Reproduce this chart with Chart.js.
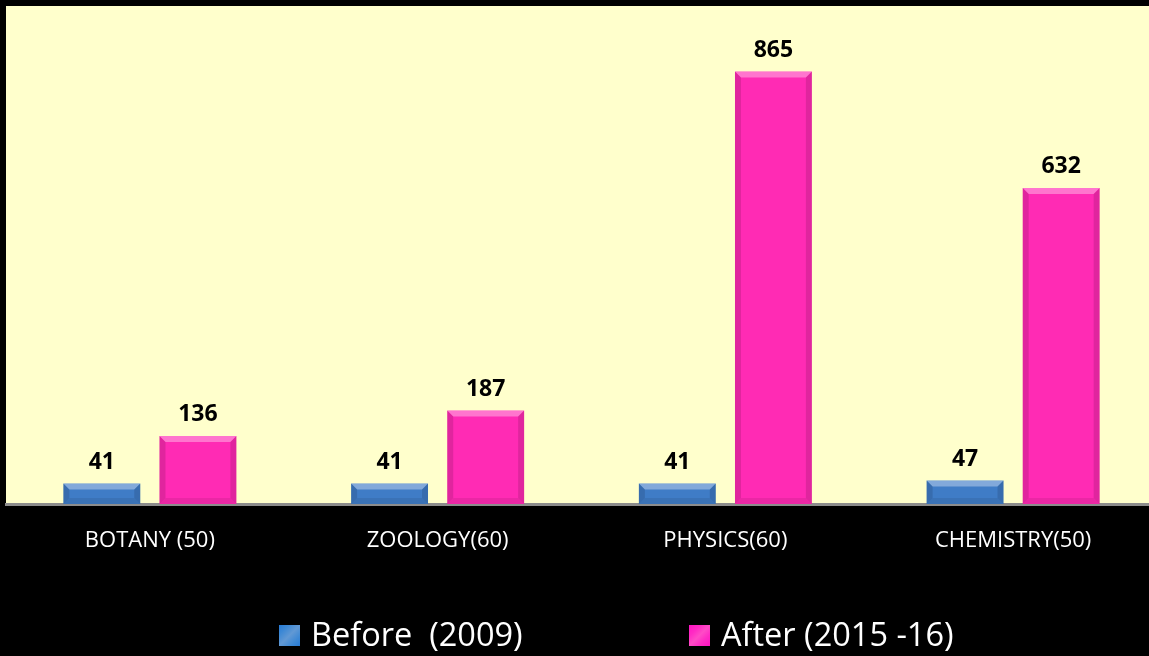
<!DOCTYPE html>
<html>
<head>
<meta charset="utf-8">
<script src="https://cdn.jsdelivr.net/npm/chart.js@4"></script>
<style>
  html, body { margin: 0; padding: 0; background: #000; overflow: hidden; }
  body { width: 1149px; height: 656px; position: relative; }
  #wrap { position: absolute; left: 0; top: 0; width: 1157px; height: 656px; }
  #legend { position: absolute; top: 614px; left: 0; width: 1149px; height: 40px;
            font-family: "Open Sans", Lato, sans-serif; font-size: 32.5px; color: #fff; }
  .item { position: absolute; top: 0; white-space: pre; line-height: 40px; }
  .box { position: absolute; top: 11px; width: 21px; height: 21px; }
</style>
</head>
<body>
<div id="wrap"><canvas id="chart" width="1157" height="656"></canvas></div>
<div id="legend"></div>
<script>
// Categories and values
const categories = ["BOTANY (50)", "ZOOLOGY(60)", "PHYSICS(60)", "CHEMISTRY(50)"];
const beforeVals = [41, 41, 41, 47];
const afterVals = [136, 187, 865, 632];
const seriesNames = ["Before  (2009)", "After (2015 -16)"];

const blue = '#3f7cc6';
const pink = '#ff2bb4';

// black page + pale yellow plot area
const background = {
  id: 'background',
  beforeDraw(chart) {
    const { ctx, chartArea } = chart;
    ctx.save();
    ctx.fillStyle = '#000';
    ctx.fillRect(0, 0, chart.width, chart.height);
    ctx.fillStyle = '#ffffcc';
    ctx.fillRect(chartArea.left, chartArea.top + 2, chartArea.right - chartArea.left, chartArea.bottom - chartArea.top - 2);
    ctx.restore();
  }
};

// simple bevel look on each bar
const bevel = {
  id: 'bevel',
  afterDatasetsDraw(chart) {
    const ctx = chart.ctx;
    chart.data.datasets.forEach((ds, i) => {
      chart.getDatasetMeta(i).data.forEach(bar => {
        const { x, y, base, width } = bar.getProps(['x', 'y', 'base', 'width'], true);
        const l = x - width / 2, r = x + width / 2;
        const h = base - y;
        const b = Math.min(6, h / 2);
        ctx.save();
        ctx.fillStyle = 'rgba(255,255,255,0.35)';
        ctx.beginPath();
        ctx.moveTo(l, y); ctx.lineTo(r, y); ctx.lineTo(r - b, y + b); ctx.lineTo(l + b, y + b);
        ctx.fill();
        ctx.fillStyle = 'rgba(0,0,0,0.12)';
        ctx.beginPath();
        ctx.moveTo(l, y); ctx.lineTo(l + b, y + b); ctx.lineTo(l + b, base - b); ctx.lineTo(l, base);
        ctx.moveTo(r, y); ctx.lineTo(r - b, y + b); ctx.lineTo(r - b, base - b); ctx.lineTo(r, base);
        ctx.fill();
        ctx.fillStyle = 'rgba(0,0,0,0.08)';
        ctx.beginPath();
        ctx.moveTo(l, base); ctx.lineTo(l + b, base - b); ctx.lineTo(r - b, base - b); ctx.lineTo(r, base);
        ctx.fill();
        ctx.restore();
      });
    });
  }
};

// bold value above each bar
const valueLabels = {
  id: 'valueLabels',
  afterDatasetsDraw(chart) {
    const ctx = chart.ctx;
    ctx.save();
    ctx.font = 'bold 23px "Open Sans", Lato, sans-serif';
    ctx.fillStyle = '#000';
    ctx.textAlign = 'center';
    ctx.textBaseline = 'alphabetic';
    chart.data.datasets.forEach((ds, i) => {
      chart.getDatasetMeta(i).data.forEach((bar, j) => {
        ctx.fillText(ds.data[j], bar.x, bar.y - 15);
      });
    });
    ctx.restore();
  }
};

new Chart(document.getElementById('chart'), {
  type: 'bar',
  data: {
    labels: categories,
    datasets: [
      { label: seriesNames[0], data: beforeVals, backgroundColor: blue },
      { label: seriesNames[1], data: afterVals, backgroundColor: pink }
    ]
  },
  options: {
    responsive: false,
    animation: false,
    categoryPercentage: 0.668,
    barPercentage: 0.8,
    layout: { padding: { left: 6, top: 4, right: 0, bottom: 0 } },
    plugins: { legend: { display: false }, tooltip: { enabled: false } },
    scales: {
      x: {
        grid: { display: false },
        border: { display: true, color: '#8c8c8c', width: 3 },
        ticks: { color: '#fff', padding: 16, font: { family: '"Open Sans", Lato, sans-serif', size: 22 } },
        afterFit(axis) { axis.height = 152; }
      },
      y: { display: false, min: 0, max: 1000 }
    }
  },
  plugins: [background, bevel, valueLabels]
});

// legend drawn as html text below the chart
const legendEl = document.getElementById('legend');
const boxPos = [279, 689];
const textPos = [311, 721];
[blue, pink].forEach((c, i) => {
  const box = document.createElement('div');
  box.className = 'box';
  box.style.left = boxPos[i] + 'px';
  box.style.background = 'linear-gradient(135deg, ' + c + ' 0%, #fff8 50%, ' + c + ' 100%), ' + c;
  box.style.backgroundBlendMode = 'soft-light';
  legendEl.appendChild(box);
  const t = document.createElement('div');
  t.className = 'item';
  t.style.left = textPos[i] + 'px';
  t.textContent = seriesNames[i];
  legendEl.appendChild(t);
});
</script>
</body>
</html>
